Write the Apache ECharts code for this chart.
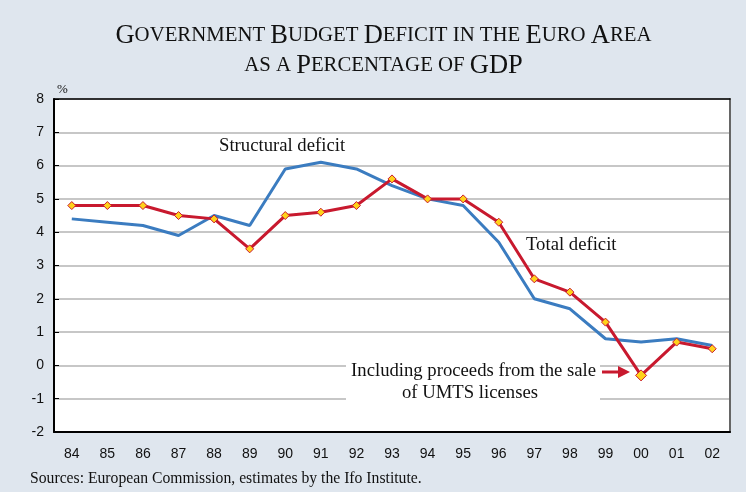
<!DOCTYPE html>
<html>
<head>
<meta charset="utf-8">
<script src="https://cdn.jsdelivr.net/npm/echarts@6/dist/echarts.min.js"></script>
<style>
  html, body { margin: 0; padding: 0; background: #dfe6ee; }
  #chart { width: 746px; height: 492px; }
</style>
</head>
<body>
<div id="chart"></div>
<script>
// years on the x axis
const years = ['84', '85', '86', '87', '88', '89', '90', '91', '92', '93', '94', '95', '96', '97', '98', '99', '00', '01', '02'];
// structural deficit, % of GDP
const structural = [4.4, 4.3, 4.2, 3.9, 4.5, 4.2, 5.9, 6.1, 5.9, 5.4, 5.0, 4.8, 3.7, 2.0, 1.7, 0.8, 0.7, 0.8, 0.6];
// total deficit, % of GDP (00 includes UMTS proceeds)
const total = [4.8, 4.8, 4.8, 4.5, 4.4, 3.5, 4.5, 4.6, 4.8, 5.6, 5.0, 5.0, 4.3, 2.6, 2.2, 1.3, -0.3, 0.7, 0.5];

const serif = '"Liberation Serif", "Times New Roman", serif';
const sans = '"Liberation Sans", Arial, sans-serif';
const red = '#c8192e';
const blue = '#3b7cc0';

const chart = echarts.init(document.getElementById('chart'));

// total deficit points, the 00 one is drawn larger
const totalData = total.map((v, i) => years[i] === '00'
    ? { value: v, symbolSize: 11 }
    : v);

// title in small caps: b = capitals, s = small capitals
const big = { fontFamily: serif, fontSize: 26.5, fontWeight: 'normal', fill: '#111', lineHeight: 30 };
const small = { fontFamily: serif, fontSize: 20.8, fontWeight: 'normal', fill: '#111', lineHeight: 30 };
const titleText = '{b|G}{s|OVERNMENT }{b|B}{s|UDGET }{b|D}{s|EFICIT IN THE }{b|E}{s|URO }{b|A}{s|REA}\n{s|AS A }{b|P}{s|ERCENTAGE OF }{b|GDP}';

const option = {
    backgroundColor: '#dfe6ee',
    animation: false,
    grid: {
        left: 54, right: 16, top: 99, bottom: 60,
        show: true, backgroundColor: '#fff', borderWidth: 0
    },
    xAxis: [{
        type: 'category',
        data: years,
        boundaryGap: true,
        axisLine: { onZero: false, lineStyle: { color: '#000', width: 2 } },
        axisTick: { inside: true, length: 5, lineStyle: { color: '#000' } },
        axisLabel: { fontFamily: sans, fontSize: 14, color: '#111', margin: 15 }
    }, {
        type: 'category',
        data: years,
        position: 'top',
        axisLine: { onZero: false, lineStyle: { color: '#000', width: 1.5 } },
        axisTick: { show: false },
        axisLabel: { show: false }
    }],
    yAxis: [{
        type: 'value',
        min: -2,
        max: 8,
        interval: 1,
        axisLine: { show: true, onZero: false, lineStyle: { color: '#000', width: 2 } },
        axisTick: { show: true, inside: true, length: 5, lineStyle: { color: '#000' } },
        axisLabel: { fontFamily: sans, fontSize: 14, color: '#111', margin: 10 },
        splitLine: { lineStyle: { color: '#b4b4b4', width: 1.5 } }
    }, {
        type: 'value',
        min: -2,
        max: 8,
        interval: 1,
        position: 'right',
        axisLine: { show: true, onZero: false, lineStyle: { color: '#666', width: 2 } },
        axisTick: { show: false },
        axisLabel: { show: false },
        splitLine: { show: false }
    }],
    series: [{
        name: 'Structural deficit',
        type: 'line',
        data: structural,
        symbol: 'none',
        lineStyle: { color: blue, width: 3 },
        z: 3
    }, {
        name: 'Total deficit',
        type: 'line',
        data: totalData,
        symbol: 'diamond',
        symbolSize: 8,
        itemStyle: { color: '#ffd21a', borderColor: red, borderWidth: 1 },
        lineStyle: { color: red, width: 3 },
        z: 4
    }],
    graphic: [
        {
            type: 'text', x: 383.5, y: 21, z: 5,
            style: { text: titleText, rich: { b: big, s: small }, align: 'center', verticalAlign: 'top', lineHeight: 30, fill: '#111' }
        },
        // white box behind the UMTS note, cuts the grid lines
        { type: 'rect', shape: { x: 346, y: 355, width: 254, height: 50 }, style: { fill: '#fff' }, z: 1 },
        { type: 'text', x: 57, y: 83, style: { text: '%', font: '13px ' + serif, fill: '#111' }, z: 5 },
        { type: 'text', x: 219, y: 137, style: { text: 'Structural deficit', font: '18.7px ' + serif, fill: '#111' }, z: 5 },
        { type: 'text', x: 526, y: 236, style: { text: 'Total deficit', font: '18.7px ' + serif, fill: '#111' }, z: 5 },
        { type: 'text', x: 596, y: 362, style: { text: 'Including proceeds from the sale', font: '18.7px ' + serif, fill: '#111', align: 'right' }, z: 5 },
        { type: 'text', x: 470, y: 384, style: { text: 'of UMTS licenses', font: '18.7px ' + serif, fill: '#111', align: 'center' }, z: 5 },
        { type: 'line', shape: { x1: 602, y1: 372, x2: 620, y2: 372 }, style: { stroke: red, lineWidth: 3 }, z: 5 },
        { type: 'polygon', shape: { points: [[618, 366], [630, 372], [618, 378]] }, style: { fill: red }, z: 5 },
        { type: 'text', x: 30, y: 471, style: { text: 'Sources: European Commission, estimates by the Ifo Institute.', font: '15.7px ' + serif, fill: '#111' }, z: 5 }
    ]
};

chart.setOption(option);
</script>
</body>
</html>
